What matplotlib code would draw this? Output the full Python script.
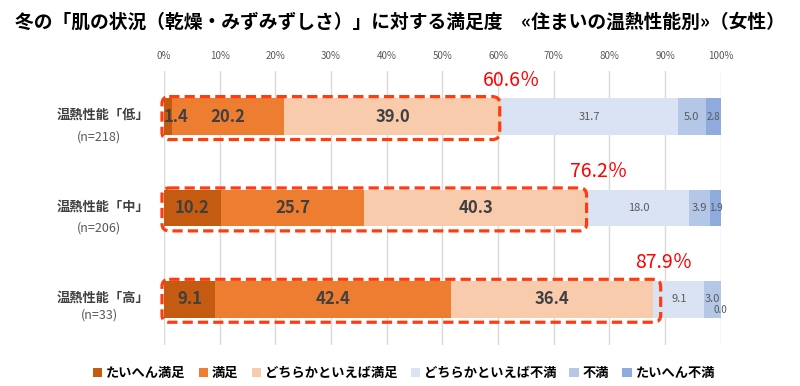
import matplotlib
matplotlib.use("Agg")
import matplotlib.pyplot as plt
from matplotlib.patches import FancyBboxPatch, Patch
from matplotlib.transforms import blended_transform_factory
import numpy as np

plt.rcParams['font.family'] = ['Noto Sans CJK JP', 'DejaVu Sans']

title = "冬の「肌の状況（乾燥・みずみずしさ）」に対する満足度　«住まいの温熱性能別»（女性）"
groups = ["温熱性能「低」", "温熱性能「中」", "温熱性能「高」"]
ns = ["(n=218)", "(n=206)", "(n=33)"]
series = ["たいへん満足", "満足", "どちらかといえば満足", "どちらかといえば不満", "不満", "たいへん不満"]
very_sat = [1.4, 10.2, 9.1]
sat = [20.2, 25.7, 42.4]
some_sat = [39.0, 40.3, 36.4]
some_dis = [31.7, 18.0, 9.1]
dis = [5.0, 3.9, 3.0]
very_dis = [2.8, 1.9, 0.0]
totals = ["60.6％", "76.2％", "87.9％"]
ticks = [0, 10, 20, 30, 40, 50, 60, 70, 80, 90, 100]

colors = ["#C55A11", "#ED7D31", "#F8CBAD", "#DAE3F3", "#B4C7E7", "#8FAADC"]
data = [very_sat, sat, some_sat, some_dis, dis, very_dis]

fig = plt.figure(figsize=(8.0, 3.86), dpi=100)
ax = fig.add_axes([0.205, 0.106, 0.696, 0.71])

y = np.arange(len(groups))
left = np.zeros(len(groups))
for k, (vals, c) in enumerate(zip(data, colors)):
    vals = np.array(vals)
    ax.barh(y, vals, left=left, height=0.4, color=c, edgecolor='none', zorder=2)
    for i, v in enumerate(vals):
        cx = left[i] + v / 2
        if k < 3:
            if k == 0 and v < 3:
                cx = left[i] + 2.2
            ax.text(cx, y[i], f"{v:.1f}", ha='center', va='center',
                    fontsize=12, fontweight='bold', color='#404040', zorder=4)
        else:
            fs = 8
            if v < 2.9:
                fs = 7
            if v == 0:
                ax.text(100, y[i] + 0.12, f"{v:.1f}", ha='center', va='center',
                        fontsize=7, color='#595959', zorder=4)
            else:
                ax.text(cx, y[i], f"{v:.1f}", ha='center', va='center',
                        fontsize=fs, color='#595959', zorder=4)
    left += vals

ax.set_xlim(0, 100)
ax.set_ylim(2.5, -0.5)
ax.set_xticks(ticks)
ax.set_xticklabels([f"{t}%" for t in ticks])
ax.xaxis.tick_top()
ax.tick_params(axis='x', length=0, labelsize=7, labelcolor='#595959', pad=7)
ax.set_yticks([])
for s in ax.spines.values():
    s.set_visible(False)
ax.grid(axis='x', color='#D9D9D9', linewidth=1, zorder=0)
ax.set_axisbelow(True)

# dashed rounded boxes and totals
sums = [a + b + c for a, b, c in zip(very_sat, sat, some_sat)]
aspect = 5.56 / 91.3
for i, s in enumerate(sums):
    x0 = -0.36
    x1 = s - 0.3 if i < 2 else s + 1.3
    box = FancyBboxPatch((x0, y[i] - 0.22), x1 - x0, 0.47,
                         boxstyle="round,pad=0,rounding_size=1.3",
                         mutation_aspect=aspect,
                         fill=False, edgecolor='#FF3B0F', linewidth=2.3,
                         linestyle=(0, (3.2, 1.6)), zorder=5, clip_on=False)
    ax.add_patch(box)
    ax.text(s + 1.8, y[i] - 0.4, totals[i], ha='center', va='center',
            fontsize=14, color='#FF0000', zorder=6)

# y labels
trans = blended_transform_factory(fig.transFigure, ax.transData)
n_off = [0.22, 0.22, 0.17]
for i in range(len(groups)):
    ax.text(149 / 800, y[i] - 0.02, groups[i], transform=trans, ha='right', va='center',
            fontsize=9.5, fontweight='bold', color='#404040')
    ax.text(99 / 800, y[i] + n_off[i], ns[i], transform=trans, ha='center', va='center',
            fontsize=9, color='#595959')

fig.text(0.5, 1 - 22 / 386, title, ha='center', va='center', fontsize=13.5,
         fontweight='bold', color='#000000')

handles = [Patch(facecolor=c, edgecolor='none') for c in colors]
fig.legend(handles, series, loc='center', bbox_to_anchor=(0.505, 1 - 373 / 386), ncol=6,
           frameon=False, fontsize=9.5, handlelength=0.7, handleheight=0.7,
           handletextpad=0.3, columnspacing=1.0,
           prop={'weight': 'bold', 'size': 9.5})

fig.savefig("out.png", dpi=100)
